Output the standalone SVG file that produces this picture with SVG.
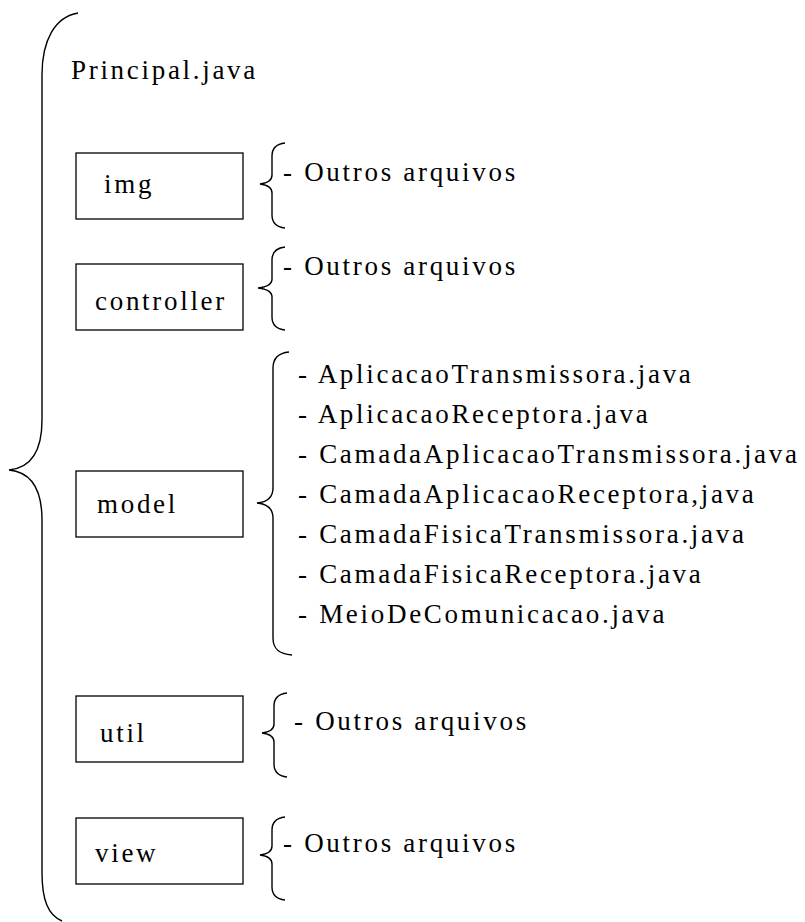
<svg xmlns="http://www.w3.org/2000/svg" width="805" height="922" viewBox="0 0 805 922">
<style>
  .t { font-family: 'Liberation Serif', 'Times New Roman', serif; font-size: 27px; letter-spacing: 2.7px; fill: #000; }
  .box { fill: #fff; stroke: #000; stroke-width: 1.3; }
  .br { fill: none; stroke: #000; stroke-width: 1.4; }
</style>
<rect width="805" height="922" fill="#fff"/>
<g id="root">
  <path class="br" d="M78,13 C55,17 42,40 42,75 L42,420 C42,452 30,468 9,470 C30,472 42,488 42,520 L42,872 C42,900 48,915 62,921"/>
  <text class="t" x="71" y="79">Principal.java</text>
</g>
<g id="img">
  <rect class="box" x="76" y="153" width="167" height="66"/>
  <text class="t" x="104" y="193">img</text>
</g>
<g id="controller">
  <rect class="box" x="76" y="264" width="167" height="66"/>
  <text class="t" x="95" y="310">controller</text>
</g>
<g id="model">
  <rect class="box" x="76" y="471" width="167" height="66"/>
  <text class="t" x="97" y="513">model</text>
</g>
<g id="util">
  <rect class="box" x="76" y="696" width="167" height="66"/>
  <text class="t" x="100" y="742">util</text>
</g>
<g id="view">
  <rect class="box" x="76" y="818" width="167" height="66"/>
  <text class="t" x="95" y="862">view</text>
</g>
<g id="img-files">
  <path class="br" d="M285,143 C276,144 272,148 272,156 L272,175 C272,180 268,183 260,184 C268,185 272,188 272,193 L272,215 C272,223 276,227 285,228"/>
  <text class="t" x="283" y="181">- Outros arquivos</text>
</g>
<g id="controller-files">
  <path class="br" d="M285,247 C276,248 272,252 272,260 L272,279 C272,284 267,287 258,288 C267,289 272,292 272,297 L272,317 C272,325 276,329 285,330"/>
  <text class="t" x="283" y="275">- Outros arquivos</text>
</g>
<g id="model-files">
  <path class="br" d="M289,352 C279,353 273,358 273,368 L273,488 C273,497 268,502 257,503 C268,504 273,509 273,518 L273,638 C273,649 279,654 292,655"/>
  <text class="t" x="298" y="383">- AplicacaoTransmissora.java</text>
  <text class="t" x="298" y="423">- AplicacaoReceptora.java</text>
  <text class="t" x="298" y="463">- CamadaAplicacaoTransmissora.java</text>
  <text class="t" x="298" y="503">- CamadaAplicacaoReceptora,java</text>
  <text class="t" x="298" y="543">- CamadaFisicaTransmissora.java</text>
  <text class="t" x="298" y="583">- CamadaFisicaReceptora.java</text>
  <text class="t" x="298" y="623">- MeioDeComunicacao.java</text>
</g>
<g id="util-files">
  <path class="br" d="M287,693 C278,694 274,698 274,706 L274,724 C274,729 270,732 262,733 C270,734 274,737 274,742 L274,764 C274,772 278,776 287,777"/>
  <text class="t" x="294" y="730">- Outros arquivos</text>
</g>
<g id="view-files">
  <path class="br" d="M285,817 C276,818 272,822 272,830 L272,846 C272,851 268,854 260,855 C268,856 272,859 272,864 L272,887 C272,895 276,899 285,900"/>
  <text class="t" x="283" y="852">- Outros arquivos</text>
</g>
</svg>
